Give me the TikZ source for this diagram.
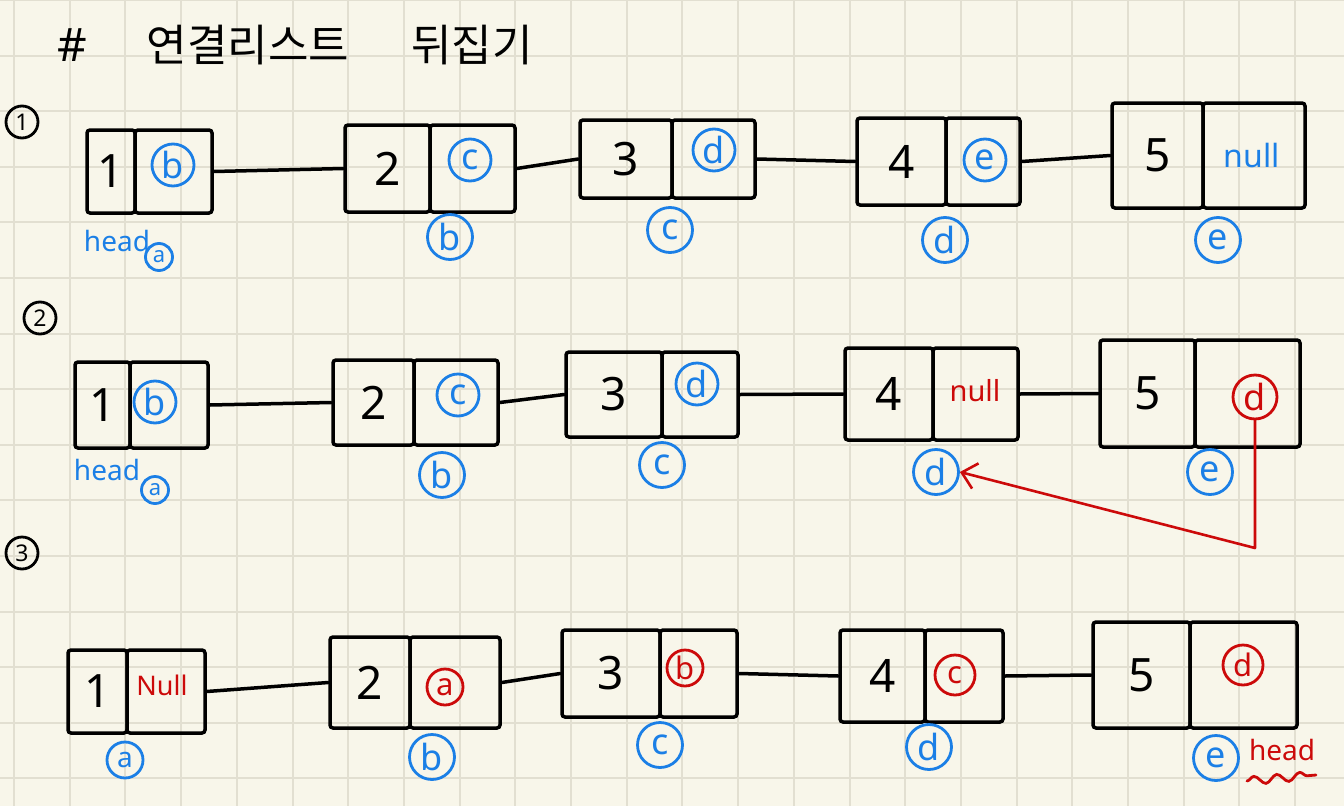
\documentclass[tikz,border=0pt]{standalone}
\usepackage{fontspec}
\setmainfont{Noto Sans}
\newfontfamily\kfont{Noto Sans CJK KR}
\usetikzlibrary{arrows.meta,decorations.pathmorphing}
\definecolor{paper}{HTML}{F8F6EA}
\definecolor{gridc}{HTML}{E2DFD1}
\definecolor{pblue}{HTML}{1B7FE6}
\definecolor{pred}{HTML}{CC0A0A}
\tikzset{
  cellbox/.style={draw=black, line width=3.5pt, rounded corners=3pt, inner sep=0pt},
  keycell/.style={cellbox, font=\fontsize{46}{50}\selectfont},
  ptrcell/.style={cellbox},
  link/.style={draw=black, line width=3.5pt, line cap=round},
  bptr/.style={circle, draw=pblue, line width=2.8pt, text=pblue, inner sep=0pt,
    minimum size=42pt, font=\fontsize{36}{38}\selectfont},
  rptr/.style={circle, draw=pred, line width=2.8pt, text=pred, inner sep=0pt,
    minimum size=36pt, font=\fontsize{31}{33}\selectfont},
  addr/.style={bptr, minimum size=45pt},
  smalladdr/.style={bptr, minimum size=27pt, font=\fontsize{22}{24}\selectfont},
  nulltext/.style={inner sep=0pt, font=\fontsize{32}{34}\selectfont},
  stepmark/.style={circle, draw=black, line width=2.8pt, inner sep=0pt,
    minimum size=32pt, font=\fontsize{23}{25}\selectfont},
  headtext/.style={inner sep=0pt, text=pblue, font=\fontsize{28}{30}\selectfont\bfseries},
  redarrow/.style={draw=pred, line width=2.6pt, line cap=round, line join=round,
    -{Straight Barb[length=14pt,width=26pt,line width=2.6pt]}},
}
% \llbox{name}{x0}{xdivider}{x1}{y0}{y1}{key}
\newcommand\llbox[7]{%
  \node[keycell, minimum width={(#3-#2)*1pt}, minimum height={(#6-#5)*1pt}]
    (k#1) at ({(#2+#3)/2},{(#5+#6)/2}) {#7};
  \node[ptrcell, minimum width={(#4-#3)*1pt}, minimum height={(#6-#5)*1pt}]
    (p#1) at ({(#3+#4)/2},{(#5+#6)/2}) {};
}
\begin{document}
\begin{tikzpicture}[x=1pt,y=-1pt]
\useasboundingbox (0,0) rectangle (1344,806);
\fill[paper] (0,0) rectangle (1344,806);
\foreach \i in {0,...,24} \draw[gridc, line width=2pt] ({14+55.7*\i},0) -- ({14+55.7*\i},806);
\foreach \j in {0,...,14} \draw[gridc, line width=2pt] (0,{55.6*\j}) -- (1344,{55.6*\j});

% title
\node[inner sep=0pt, font=\fontsize{46}{50}\selectfont] (t0) at (72,45) {\#};
\node[inner sep=0pt, font=\kfont\fontsize{44}{48}\selectfont] (t1) at (248,45) {연결리스트};
\node[inner sep=0pt, font=\kfont\fontsize{44}{48}\selectfont] (t2) at (472,45) {뒤집기};

% step markers
\node[stepmark] (m1) at (22,122) {1};
\node[stepmark] (m2) at (40,318) {2};
\node[stepmark] (m3) at (22,553) {3};

% ---------- row 1 ----------
\llbox{11}{87}{135}{212}{130}{213}{1}
\llbox{12}{345}{430}{515}{125}{212}{2}
\llbox{13}{580}{672}{755}{120}{198}{3}
\llbox{14}{857}{946}{1020}{118}{205}{4}
\llbox{15}{1112}{1203}{1305}{103}{208}{5}
\node[bptr] (q11) at (173,165) {b};
\node[bptr] (q12) at (470,160) {c};
\node[bptr] (q13) at (714,150) {d};
\node[bptr] (q14) at (985,160) {e};
\node[nulltext, text=pblue] (q15) at (1252,155) {null};
\foreach \a/\b in {11/12,12/13,13/14,14/15} \draw[link] (p\a.east) -- (k\b.west);
\node[headtext] (h1) at (117,241) {head};
\node[smalladdr] (l11) at (159,257) {a};
\node[addr] (l12) at (450,237) {b};
\node[addr] (l13) at (670,230) {c};
\node[addr] (l14) at (945,240) {d};
\node[addr] (l15) at (1218,240) {e};

% ---------- row 2 ----------
\llbox{21}{75}{130}{208}{362}{448}{1}
\llbox{22}{333}{414}{498}{360}{445}{2}
\llbox{23}{566}{662}{738}{352}{437}{3}
\llbox{24}{845}{933}{1018}{348}{440}{4}
\llbox{25}{1100}{1195}{1300}{340}{447}{5}
\node[bptr] (q21) at (155,402) {b};
\node[bptr] (q22) at (458,395) {c};
\node[bptr] (q23) at (697,384) {d};
\node[nulltext, text=pred, font=\fontsize{29}{31}\selectfont] (q24) at (975,391) {null};
\node[rptr, minimum size=44pt, font=\fontsize{36}{38}\selectfont] (q25) at (1255,397) {d};
\foreach \a/\b in {21/22,22/23,23/24,24/25} \draw[link] (p\a.east) -- (k\b.west);
\node[headtext] (h2) at (107,470) {head};
\node[smalladdr] (l21) at (155,490) {a};
\node[addr] (l22) at (442,475) {b};
\node[addr] (l23) at (662,465) {c};
\node[addr] (l24) at (936,472) {d};
\node[addr] (l25) at (1210,472) {e};
\coordinate (bend) at (1255,548);
\draw[redarrow] (q25.south) -- (bend) -- (l24.east);

% ---------- row 3 ----------
\llbox{31}{68}{127}{205}{650}{733}{1}
\llbox{32}{330}{410}{500}{637}{728}{2}
\llbox{33}{562}{660}{737}{630}{717}{3}
\llbox{34}{840}{925}{1003}{630}{722}{4}
\llbox{35}{1093}{1190}{1297}{622}{728}{5}
\node[nulltext, text=pred, font=\fontsize{27}{29}\selectfont] (q31) at (162,685) {Null};
\node[rptr] (q32) at (445,687) {a};
\node[rptr] (q33) at (685,668) {b};
\node[rptr, minimum size=40pt] (q34) at (955,675) {c};
\node[rptr, minimum size=40pt] (q35) at (1243,665) {d};
\foreach \a/\b in {31/32,32/33,33/34,34/35} \draw[link] (p\a.east) -- (k\b.west);
\node[addr, minimum size=36pt, font=\fontsize{28}{30}\selectfont] (l31) at (125,760) {a};
\node[addr] (l32) at (432,757) {b};
\node[addr] (l33) at (660,745) {c};
\node[addr] (l34) at (929,747) {d};
\node[addr] (l35) at (1216,758) {e};
\node[headtext, text=pred] (h3) at (1282,750) {head};
\coordinate (w0) at (1247,781);
\coordinate (w1) at (1316,775);
\draw[pred, line width=2.8pt, line cap=round,
  decorate, decoration={snake, amplitude=4pt, segment length=23pt}] (w0) -- (w1);
\end{tikzpicture}
\end{document}
